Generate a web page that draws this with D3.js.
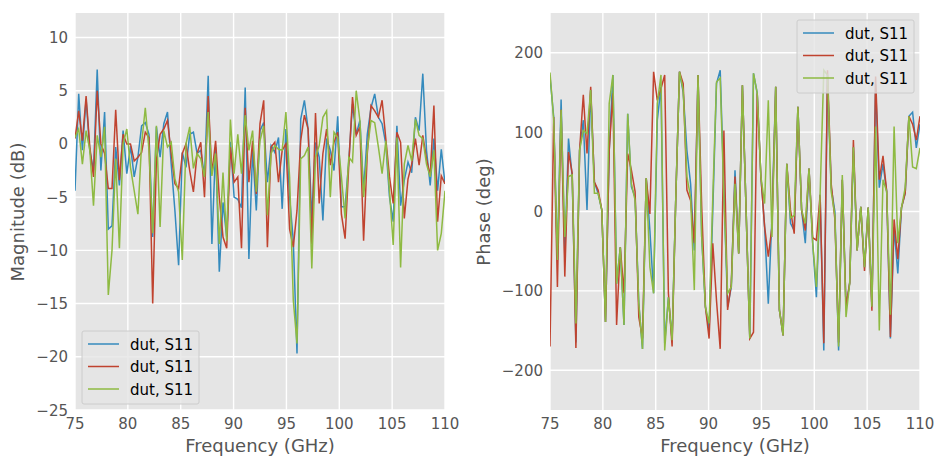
<!DOCTYPE html>
<html>
<head>
<meta charset="utf-8">
<script src="https://cdn.jsdelivr.net/npm/d3@7"></script>
<style>
  body { margin: 0; background: #fff; }
  text { font-family: "DejaVu Sans", sans-serif; }
</style>
</head>
<body>
<div id="chart"></div>
<script>
// frequency grid, GHz (101 samples 75..110)
const fStart = 75, fStop = 110, fStep = 0.35;
const freq = d3.range(101).map(i => +(fStart + i * fStep).toFixed(2));

const seriesNames = ["dut, S11", "dut, S11", "dut, S11"];
const xTicks = [75, 80, 85, 90, 95, 100, 105, 110];
const magTicks = [-25, -20, -15, -10, -5, 0, 5, 10];
const phaseTicks = [-200, -100, 0, 100, 200];

// magnitude (dB)
const magA = [-4.4, 4.7, -0.6, 4.2, -0.6, -2.5, 7.0, -2.5, 3.0, -8.0, -7.7, -0.3, -3.9, 1.25, -2.8, -0.2, -3.1, -1.25, 1.7, 2.0,
  0.9, -8.75, 1.6, -1.25, 1.9, 3.0, -1.9, -6.25, -11.4, -0.8, -2.2, 0.9, 1.1, -0.9, -0.6, -3.1, 6.4, -9.4, -0.3, -12.0,
  -5.5, -8.75, 0.2, -5.0, -5.2, -6.0, 5.3, -10.8, -0.6, -6.25, 1.25, 2.0, -3.6, -0.15, -0.8, 0.6, -6.1, 1.4, -5.0, -9.1,
  -19.7, 2.3, 4.1, 1.4, -7.0, 0.15, -1.25, -7.2, 0.5, -0.6, -2.5, 2.6, -5.9, -5.9, -1.6, 3.75, 0.9, 2.2, -4.4, 0.9,
  3.4, 4.7, 2.5, 1.9, 0.0, -5.0, -7.3, 1.7, -5.8, -3.4, -1.7, -2.7, 2.5, 1.25, 6.6, -0.6, -3.9, 0.5, -4.4, -0.5, -3.75];
const magB = [0.5, 3.1, 0.3, 4.5, -0.3, -3.1, 5.0, 0.0, -0.9, -4.2, -4.2, 3.2, -3.4, 0.9, 0.0, 0.0, -1.6, -1.25, -0.8, 1.1,
  0.6, -15.0, -1.5, 0.9, 1.4, 2.2, -0.9, -3.75, -4.2, -0.9, 0.0, -2.5, -4.5, -0.9, 0.15, -5.0, 4.5, -2.8, 0.3, -5.0,
  -8.75, -9.8, -0.3, -3.6, -3.1, -9.8, 3.4, -3.6, 0.3, -4.7, 1.9, 4.1, -9.7, -0.3, 0.15, -3.6, -0.6, 0.0, -8.0, -9.7,
  -6.25, 0.3, 2.7, 1.4, -9.4, 2.9, -5.6, -0.9, 1.4, -2.0, 0.15, 1.1, -6.6, -8.9, -1.9, 4.4, 0.8, 1.6, -9.1, -0.9,
  3.6, 3.1, 2.5, 4.1, 0.5, -3.1, -5.6, 1.1, 0.15, -7.0, -3.3, -1.9, 0.5, -2.0, 0.8, -1.4, -3.0, 3.6, -7.3, -3.0, -3.75];
const magC = [0.6, 1.4, -1.9, 1.25, -0.6, -5.8, 0.8, -1.25, 1.6, -14.2, -10.0, -1.4, -9.8, 0.0, 1.4, -2.2, -4.4, -6.6, 0.0, 3.4,
  -0.6, -8.4, 1.7, -7.8, 1.25, -0.3, 0.15, -3.3, -4.5, -10.9, 0.0, 1.6, -2.3, -0.9, -1.4, -3.1, 3.0, -3.0, -0.9, -9.4,
  -2.7, -9.1, 2.3, -2.8, 0.9, -2.8, 2.7, -0.6, 1.25, -4.5, 0.3, 1.7, -6.7, -0.9, -0.15, -0.5, -0.6, 3.0, -3.1, -14.7,
  -18.75, -1.4, -1.1, -0.3, -11.7, -1.25, -0.15, 2.5, 3.1, -5.0, 1.1, 0.6, -3.1, -7.0, -1.25, -1.7, 5.0, 2.2, -5.0, -0.6,
  2.2, 2.0, -0.3, -2.8, 0.3, -4.4, -9.5, 0.6, -11.6, -1.9, -0.15, -1.6, 2.3, 0.8, 0.5, -1.9, -3.1, -0.6, -10.0, -8.4, -4.4];

// phase (deg)
const phaseA = [170, 119, -61, 141, -55, 92, 44, -165, 77, 115, 2, 153, 37, 23, 2, -139, 77, 172, -91, -45,
  -143, 123, 31, 18, -116, -173, 42, -24, -103, 115, 157, -166, -108, -162, 18, 176, 150, 77, 35, -49,
  172, -32, -120, -150, 2, 161, 178, 27, -120, -95, 52, -53, 159, 2, -160, 174, 149, 44, -19, -116,
  -7, 157, -124, -156, 60, -15, -24, 132, 2, -40, 54, -40, -108, 21, -175, 170, 30, 0, -175, 40,
  -120, -90, 81, -49, 6, -70, 5, -120, 160, 30, 60, 25, -160, -20, -78, 5, 23, 120, 125, 80, 110];
const phaseB = [-170, 119, -95, 128, -82, 75, 48, -172, 77, 147, 73, 157, 37, 27, 2, -139, 77, 149, -143, -45,
  -103, 73, 52, 25, -133, -160, 42, -3, 176, 140, 155, 172, -103, -170, 18, 176, 161, 27, 14, -40,
  172, 6, -120, -160, -40, -112, -173, 102, -124, -91, 44, -53, 159, 2, -160, -152, 149, 44, -19, -57,
  -19, 157, -124, -156, 60, 2, -28, 132, 2, -24, 54, -33, -36, 21, -166, 178, 35, -10, -165, 40,
  -120, -90, 90, -49, 6, -75, 5, -125, 170, 40, 70, 25, -158, -10, -60, 5, 23, 120, 110, 90, 120];
const phaseC = [175, 115, -61, 128, -32, 44, 46, -141, 77, 102, 98, 153, 23, 23, 2, -139, 136, 172, -91, -45,
  -143, 123, 35, 14, -116, -173, 42, -70, -103, 136, 172, -175, -108, -162, 18, 176, 153, 44, 18, -99,
  172, -32, -120, -141, 18, 163, 168, 18, -103, -95, 35, -53, 159, 2, -160, 174, 149, 44, 10, 140,
  -32, 157, -124, -156, 60, -8, -5, 132, 2, -15, 54, -40, -95, 21, 178, 172, 25, -5, -170, 46,
  -133, -90, 81, -49, 6, -70, 5, -120, 107, -150, 40, 25, -130, 107, -40, 5, 30, 120, 56, 54, 80];

const colors = ["#348ABD", "#C0432F", "#8EBA42"];

const svg = d3.select("#chart").append("svg")
  .attr("width", 947)
  .attr("height", 468);

function drawPanel(opts) {
  const top = 13, bottom = 410;
  const x = d3.scaleLinear().domain([75, 110]).range([opts.left, opts.right]);
  const y = d3.scaleLinear().domain(opts.yDomain).range([bottom, top]);
  const g = svg.append("g");

  // background
  g.append("rect")
    .attr("x", opts.left).attr("y", top)
    .attr("width", opts.right - opts.left).attr("height", bottom - top)
    .attr("fill", "#E5E5E5");

  // grid
  g.selectAll(".vg").data(xTicks).join("line")
    .attr("x1", d => x(d)).attr("x2", d => x(d))
    .attr("y1", top).attr("y2", bottom)
    .attr("stroke", "#fff").attr("stroke-width", 1.4);
  g.selectAll(".hg").data(opts.yTicks).join("line")
    .attr("x1", opts.left).attr("x2", opts.right)
    .attr("y1", d => y(d)).attr("y2", d => y(d))
    .attr("stroke", "#fff").attr("stroke-width", 1.4);

  // tick labels
  const fmt = d => d < 0 ? "\u2212" + Math.abs(d) : String(d);
  g.selectAll(".xt").data(xTicks).join("text")
    .attr("x", d => x(d)).attr("y", 428.5)
    .attr("text-anchor", "middle")
    .attr("font-size", 15).attr("fill", "#555")
    .text(fmt);
  g.selectAll(".yt").data(opts.yTicks).join("text")
    .attr("x", opts.left - 7).attr("y", d => y(d) + 5.5)
    .attr("text-anchor", "end")
    .attr("font-size", 15).attr("fill", "#555")
    .text(fmt);

  // axis labels
  g.append("text")
    .attr("x", (opts.left + opts.right) / 2).attr("y", 452)
    .attr("text-anchor", "middle")
    .attr("font-size", 18).attr("fill", "#555")
    .text("Frequency (GHz)");
  g.append("text")
    .attr("transform", `translate(${opts.labelX},212) rotate(-90)`)
    .attr("text-anchor", "middle")
    .attr("font-size", 18).attr("fill", "#555")
    .text(opts.yLabel);

  // lines
  const clipId = "clip" + opts.left;
  svg.append("clipPath").attr("id", clipId)
    .append("rect")
    .attr("x", opts.left).attr("y", top)
    .attr("width", opts.right - opts.left).attr("height", bottom - top);

  const line = d3.line()
    .x((d, i) => x(freq[i]))
    .y(d => y(d));

  opts.series.forEach((s, k) => {
    g.append("path")
      .attr("d", line(s))
      .attr("fill", "none")
      .attr("stroke", colors[k])
      .attr("stroke-width", 1.5)
      .attr("clip-path", `url(#${clipId})`);
  });

  // legend
  const lg = g.append("g").attr("transform", `translate(${opts.legend[0]},${opts.legend[1]})`);
  lg.append("rect")
    .attr("width", 117).attr("height", 73).attr("rx", 2)
    .attr("fill", "#E5E5E5").attr("fill-opacity", 0.8)
    .attr("stroke", "#CCCCCC").attr("stroke-width", 1);
  seriesNames.forEach((name, k) => {
    const yy = 13 + k * 22.5;
    lg.append("line")
      .attr("x1", 6).attr("x2", 37)
      .attr("y1", yy).attr("y2", yy)
      .attr("stroke", colors[k]).attr("stroke-width", 1.5);
    lg.append("text")
      .attr("x", 48).attr("y", yy + 5.5)
      .attr("font-size", 15).attr("fill", "#000")
      .text(name);
  });
}

drawPanel({
  left: 75, right: 445,
  yDomain: [-25, 12.3], yTicks: magTicks,
  yLabel: "Magnitude (dB)", labelX: 24,
  series: [magA, magB, magC],
  legend: [82, 331]
});

drawPanel({
  left: 550, right: 920,
  yDomain: [-250, 250], yTicks: phaseTicks,
  yLabel: "Phase (deg)", labelX: 490,
  series: [phaseA, phaseB, phaseC],
  legend: [797, 20]
});
</script>
</body>
</html>
